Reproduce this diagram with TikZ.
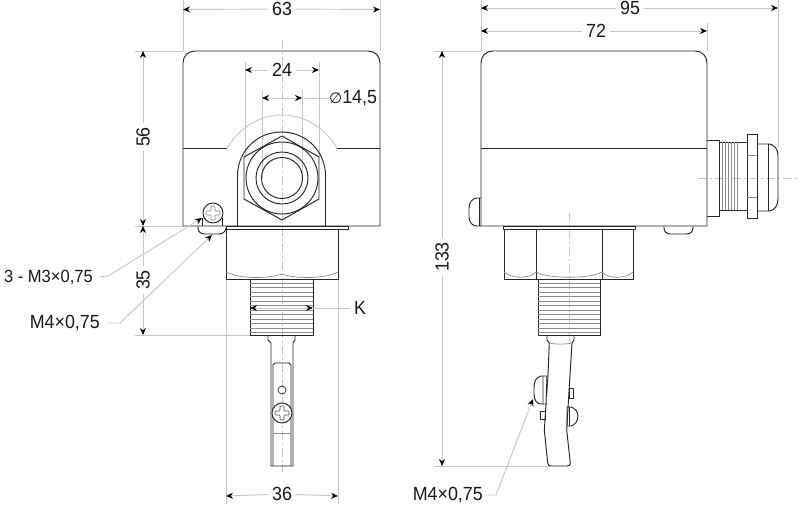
\documentclass[tikz,border=0pt]{standalone}
\usepackage{fontspec}
\setmainfont[FakeStretch=0.94]{Liberation Sans}
\newfontfamily\symfont{DejaVu Sans}
\usetikzlibrary{arrows.meta}
\definecolor{dimgrey}{gray}{0.78}
\definecolor{midgrey}{gray}{0.55}
\tikzset{
  part/.style={draw=black!85,line width=0.95pt,line join=round},
  fine/.style={draw=midgrey,line width=0.7pt},
  faint/.style={draw=dimgrey,line width=0.9pt},
  centre/.style={draw=dimgrey,line width=0.9pt,dash pattern=on 9pt off 3pt on 2pt off 3pt},
  dimline/.style={draw=dimgrey,line width=0.9pt},
  tip/.style={-{Stealth[black,length=7pt,width=6pt]}},
  bitip/.style={{Stealth[black,length=7pt,width=6pt]}-{Stealth[black,length=7pt,width=6pt]}},
  lab/.style={font=\fontsize{19}{20}\selectfont,inner sep=3.5pt,text=black!90},
}
\begin{document}
\begin{tikzpicture}[x=1pt,y=-1pt]
\useasboundingbox[fill=white] (0,0) rectangle (800,504);
% ---------- front view: extension lines
\draw[faint] (183,0) -- (183,51) (380,0) -- (380,51);
\draw[faint] (135,51) -- (183,51) (135,226) -- (183,226) (135,335) -- (250,335);
\draw[faint] (245,62) -- (245,157) (319,62) -- (319,157);
\draw[faint] (262,90) -- (262,178) (302,90) -- (302,178);
\draw[faint] (226,279) -- (226,504) (338,279) -- (338,504);
\draw[centre] (282,40) -- (282,472);
% body
\draw[part] (183,226) -- (183,63) .. controls (183,56) and (188,51) .. (195,51) -- (368,51) .. controls (375,51) and (380,56) .. (380,63) -- (380,226) -- cycle;
\draw[part] (183,148) -- (227,148) (337,148) -- (380,148);
\draw[faint] (227,148) .. controls (240,127) and (260,115) .. (282,115) .. controls (304,115) and (324,127) .. (337,148);
% gland
\draw[part] (237.5,226) -- (237.5,176) .. controls (237.5,151) and (257,132) .. (281.5,132) .. controls (306,132) and (325.5,151) .. (325.5,176) -- (325.5,226);
\draw[part] (282,136) -- (319,157) -- (319,199) -- (282,220) -- (244,199) -- (244,157) -- cycle;
\draw[part] (282,178) circle[radius=36] (282,178) circle[radius=26] (282,178) circle[radius=20.5];
% base nut and thread
\draw[part] (226,226) rectangle (348,229);
\draw[part] (226,229) rectangle (338,279);
\draw[fine] (226,272) .. controls (240,279) and (268,279) .. (282,274) .. controls (296,279) and (324,279) .. (338,272);
\draw[part] (250,279) rectangle (313,335);
\foreach \yy in {283,287.5,292,296.5,301,305.5,310,314.5,319,323.5,328,332}
  \draw[fine] (250,\yy) -- (313,\yy);
% probe
\draw[part] (268,335) -- (268,340) -- (271,343) -- (271,466) -- (293,466) -- (293,343) -- (295,340) -- (295,335);
\draw[part] (273,466) -- (273,365) -- (275,363) -- (289,363) -- (291,365) -- (291,466);
\draw[fine] (273,433) -- (291,433);
\draw[part,line width=0.7pt] (282,390) circle[radius=4];
\draw[part,fill=white] (282,413) circle[radius=10];
\draw[draw=black!70,line width=0.6pt,rounded corners=0.8pt] (280,406) -- (284,406) -- (284,411) -- (289,411) -- (289,415) -- (284,415) -- (284,420) -- (280,420) -- (280,415) -- (275,415) -- (275,411) -- (280,411) -- cycle;
% side screw and clip
\draw[part] (198,226) -- (198,228) .. controls (198,232) and (201,234) .. (205,234) -- (219,234) .. controls (223,234) and (226,231) .. (226,228);
\draw[part] (202,218) -- (202,226) (222,218) -- (222,226);
\draw[part,fill=white] (213,213) circle[radius=10];
\draw[draw=black!45,line width=0.6pt,rounded corners=0.8pt] (211,206) -- (215,206) -- (215,211) -- (220,211) -- (220,215) -- (215,215) -- (215,220) -- (211,220) -- (211,215) -- (206,215) -- (206,211) -- (211,211) -- cycle;
% front dimensions
\node[lab] (d63) at (282,9) {63};
\coordinate (d63a) at (183,9.5); \coordinate (d63b) at (380,9.5);
\draw[dimline,tip] (d63) -- (d63a); \draw[dimline,tip] (d63) -- (d63b);
\node[lab] (d24) at (282,70) {24};
\coordinate (d24a) at (245,70); \coordinate (d24b) at (319,70);
\draw[dimline,tip] (d24) -- (d24a); \draw[dimline,tip] (d24) -- (d24b);
\node[lab,anchor=west,inner sep=1pt] (d14) at (328,98) {{\symfont\fontsize{15}{16}\selectfont ∅}14,5};
\coordinate (d14a) at (262,98); \coordinate (d14b) at (302,98);
\draw[dimline,bitip] (d14a) -- (d14b);
\draw[dimline] (d14b) -- (d14);
\node[lab,rotate=90] (d56) at (143,137) {56};
\coordinate (d56a) at (143,51); \coordinate (d56b) at (143,226);
\draw[dimline,tip] (d56) -- (d56a); \draw[dimline,tip] (d56) -- (d56b);
\node[lab,rotate=90] (d35) at (143,280) {35};
\coordinate (d35a) at (143,226); \coordinate (d35b) at (143,335);
\draw[dimline,tip] (d35) -- (d35a); \draw[dimline,tip] (d35) -- (d35b);
\node[lab] (d36) at (282,494) {36};
\coordinate (d36a) at (226,496); \coordinate (d36b) at (338,496);
\draw[dimline,tip] (d36) -- (d36a); \draw[dimline,tip] (d36) -- (d36b);
\node[lab] (k) at (360,308) {K};
\coordinate (ka) at (250,308); \coordinate (kb) at (313,308);
\draw[dimline,bitip] (ka) -- (kb);
\draw[dimline] (kb) -- (k);
\node[lab,font=\fontsize{17.6}{20}\selectfont,anchor=east,inner sep=0pt] (m3) at (93,277) {3 - M3×0,75};
\coordinate (m3k) at (108,276); \coordinate (m3t) at (202,218);
\draw[dimline,tip] ([xshift=6pt]m3.east) -- (m3k) -- (m3t);
\node[lab,anchor=east,inner sep=0pt] (m4) at (100,323) {M4×0,75};
\coordinate (m4k) at (120,323); \coordinate (m4t) at (212,235);
\draw[dimline,tip] ([xshift=8pt]m4.east) -- (m4k) -- (m4t);
% ---------- side view: extension lines
\draw[faint] (481,0) -- (481,51) (707,23) -- (707,51) (778,0) -- (778,147);
\draw[faint] (434,51) -- (481,51) (434,466) -- (550,466);
\draw[centre] (569,213) -- (569,345);
\draw[centre] (698,178) -- (800,178);
% body
\draw[part] (481,226) -- (481,63) .. controls (481,56) and (486,51) .. (493,51) -- (695,51) .. controls (702,51) and (707,56) .. (707,63) -- (707,226) -- cycle;
\draw[part] (481,148) -- (707,148);
% button and bump
\draw[part] (481,198) -- (477,198) .. controls (472,198) and (469,203) .. (469,208) -- (469,217) .. controls (469,222) and (472,226) .. (477,226) -- (481,226);
\draw[part] (479,198) -- (479,226);
\draw[part] (664,226) -- (664,228) .. controls (664,232) and (667,234) .. (671,234) -- (686,234) .. controls (690,234) and (693,232) .. (693,228) -- (693,226);
% side gland
\draw[part] (707,140) -- (719,140) -- (719,216) -- (707,216);
\draw[part] (719,142) -- (747,142) (719,210) -- (747,210);
\foreach \xx in {722,725,728,731,734,737}
  \draw[fine] (\xx,142) -- (\xx,210);
\draw[part] (747,134) rectangle (757,218);
\draw[fine] (747,155) -- (757,155) (747,197) -- (757,197);
\draw[part] (757,144) -- (768,144) .. controls (775,144) and (778,150) .. (778,156) -- (778,199) .. controls (778,205) and (775,211) .. (768,211) -- (757,211);
\draw[part] (768,144) -- (768,211);
% side base
\draw[part] (503,226) rectangle (635,229);
\draw[part] (504,229) rectangle (633,279);
\draw[part] (536,229) -- (536,279) (602,229) -- (602,279);
\draw[fine] (504,272) .. controls (512,279) and (530,279) .. (536,272) .. controls (548,279) and (590,279) .. (602,272) .. controls (608,279) and (626,279) .. (633,272);
\draw[part] (538,279) rectangle (600,335);
\foreach \yy in {283,287.5,292,296.5,301,305.5,310,314.5,319,323.5,328,332}
  \draw[fine] (538,\yy) -- (600,\yy);
% blade
\draw[part] (547,335) -- (547,340) -- (549.3,343) -- (548,375) -- (544.3,430) -- (547.7,463) .. controls (548,465) and (549,466) .. (551,466) -- (567,466) .. controls (569.5,466) and (570.5,465) .. (570.3,463) -- (566.7,430) -- (570,375) -- (572,343) -- (574,340) -- (574,335);
\draw[fine] (549.3,343) .. controls (556,344.5) and (565,344.5) .. (572,343);
\draw[part,fill=white] (547,376) -- (541,376) .. controls (536,377) and (534,382) .. (534,387) -- (534,394) .. controls (534,400) and (537,404) .. (541,404) -- (547,404);
\draw[part] (543,376) -- (543,404) (547,376) -- (546,404);
\draw[part,line width=0.7pt] (540,411) rectangle (545,419);
\draw[part,line width=0.7pt] (569,388) rectangle (573,398);
\draw[part] (567,407) -- (571,407) .. controls (575,408) and (578,412) .. (578,416) .. controls (578,421) and (575,425) .. (571,426) -- (567,426) -- cycle;
\draw[part,line width=0.7pt] (569.5,407) -- (569.5,426);
% side dimensions
\node[lab] (d95) at (630,8) {95};
\coordinate (d95a) at (481,8); \coordinate (d95b) at (778,8);
\draw[dimline,tip] (d95) -- (d95a); \draw[dimline,tip] (d95) -- (d95b);
\node[lab] (d72) at (596,31) {72};
\coordinate (d72a) at (481,31); \coordinate (d72b) at (707,31);
\draw[dimline,tip] (d72) -- (d72a); \draw[dimline,tip] (d72) -- (d72b);
\node[lab,rotate=90] (d133) at (442,257) {133};
\coordinate (d133a) at (442,51); \coordinate (d133b) at (442,466);
\draw[dimline,tip] (d133) -- (d133a); \draw[dimline,tip] (d133) -- (d133b);
\node[lab,anchor=east,inner sep=0pt] (m4b) at (483,495) {M4×0,75};
\coordinate (m4bk) at (496,495); \coordinate (m4bt) at (533,399);
\draw[dimline,tip] ([xshift=3pt]m4b.east) -- (m4bk) -- (m4bt);
\end{tikzpicture}
\end{document}
